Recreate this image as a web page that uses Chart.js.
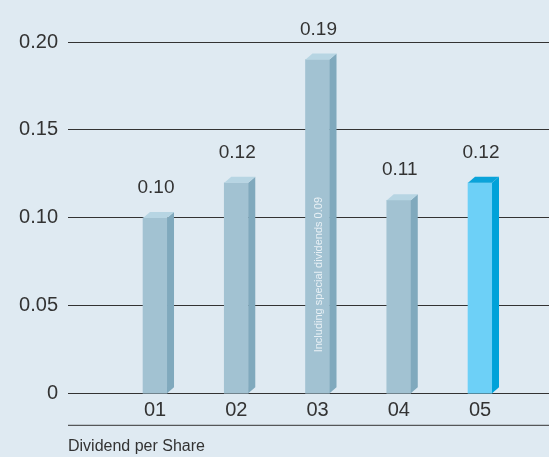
<!DOCTYPE html>
<html>
<head>
<meta charset="utf-8">
<script src="https://cdn.jsdelivr.net/npm/chart.js@4"></script>
<style>
    html, body { margin: 0; padding: 0; background: #dfeaf2; }
    #wrap { width: 549px; height: 457px; }
</style>
</head>
<body>
<div id="wrap"><canvas id="dividend-chart" width="549" height="457"></canvas></div>
<script>
const yearLabels = ['01', '02', '03', '04', '05'];
const dividends = [0.10, 0.12, 0.19, 0.11, 0.12];
const valueLabels = ['0.10', '0.12', '0.19', '0.11', '0.12'];
const barNotes = ['', '', 'Including special dividends 0.09', '', ''];
const yTicks = [0, 0.05, 0.10, 0.15, 0.20];
const yTickLabels = ['0', '0.05', '0.10', '0.15', '0.20'];

// front / side / top shades for each bar
const frontColors = ['#a2c2d2', '#a2c2d2', '#a2c2d2', '#a2c2d2', '#6dd0f7'];
const sideColors = ['#80a9bd', '#80a9bd', '#80a9bd', '#80a9bd', '#00a2d9'];
const topColors = ['#b7d5e3', '#b7d5e3', '#b7d5e3', '#b7d5e3', '#0aa3da'];

const FONT = "'Liberation Sans', Arial, sans-serif";
const TEXT = '#333333';

// extrude each bar into a box and write the labels
const boxPlugin = {
    id: 'box3d',
    afterDatasetsDraw(chart) {
        const ctx = chart.ctx;
        const meta = chart.getDatasetMeta(0);
        const dx = 7, dy = 6;
        meta.data.forEach((bar, i) => {
            const left = bar.x - bar.width / 2;
            const right = bar.x + bar.width / 2;
            const top = bar.y;
            const base = bar.base;

            ctx.save();
            ctx.fillStyle = sideColors[i];
            ctx.beginPath();
            ctx.moveTo(right, top);
            ctx.lineTo(right + dx, top - dy);
            ctx.lineTo(right + dx, base - dy);
            ctx.lineTo(right, base);
            ctx.closePath();
            ctx.fill();

            ctx.fillStyle = topColors[i];
            ctx.beginPath();
            ctx.moveTo(left, top);
            ctx.lineTo(left + dx, top - dy);
            ctx.lineTo(right + dx, top - dy);
            ctx.lineTo(right, top);
            ctx.closePath();
            ctx.fill();

            ctx.fillStyle = TEXT;
            ctx.font = '19px ' + FONT;
            ctx.textAlign = 'center';
            ctx.textBaseline = 'alphabetic';
            ctx.fillText(valueLabels[i], bar.x + 1, top - 25);

            if (barNotes[i]) {
                ctx.translate(bar.x + 4, base - 41);
                ctx.rotate(-Math.PI / 2);
                ctx.fillStyle = '#e8f0f5';
                ctx.font = '11px ' + FONT;
                ctx.textAlign = 'left';
                ctx.fillText(barNotes[i], 0, 0);
            }
            ctx.restore();
        });

        // rule between year labels and caption
        const xScale = chart.scales.x;
        const lineY = chart.chartArea.bottom + 31.5;
        ctx.save();
        ctx.strokeStyle = '#333333';
        ctx.lineWidth = 1;
        ctx.beginPath();
        ctx.moveTo(xScale.left, lineY);
        ctx.lineTo(xScale.right, lineY);
        ctx.stroke();
        ctx.restore();
    }
};

const ctx = document.getElementById('dividend-chart').getContext('2d');

new Chart(ctx, {
    type: 'bar',
    data: {
        datasets: [{
            data: dividends.map((v, i) => ({ x: i + 1, y: v })),
            backgroundColor: frontColors,
            borderWidth: 0,
            barThickness: 24
        }]
    },
    options: {
        responsive: false,
        animation: false,
        layout: { padding: { top: 42, left: 0, right: 0, bottom: 0 } },
        plugins: {
            legend: { display: false },
            tooltip: { enabled: false }
        },
        scales: {
            x: {
                type: 'linear',
                offset: false,
                min: -0.071,
                max: 5.849,
                grid: { display: false, drawTicks: false },
                border: { display: false },
                afterBuildTicks: scale => {
                    scale.ticks = yearLabels.map((_, i) => ({ value: i + 1 }));
                },
                ticks: {
                    autoSkip: false,
                    maxRotation: 0,
                    padding: 5,
                    color: TEXT,
                    font: { family: FONT, size: 20 },
                    callback: value => yearLabels[value - 1] || ''
                },
                title: {
                    display: true,
                    text: 'Dividend per Share',
                    align: 'start',
                    color: TEXT,
                    font: { family: FONT, size: 16 },
                    padding: { top: 9, bottom: 1 }
                }
            },
            y: {
                min: 0,
                max: 0.20,
                afterFit: scale => { scale.width = 68; },
                afterBuildTicks: scale => {
                    scale.ticks = yTicks.map(v => ({ value: v }));
                },
                grid: {
                    color: '#333333',
                    lineWidth: 1,
                    drawTicks: false
                },
                border: { display: false },
                ticks: {
                    padding: 10,
                    color: TEXT,
                    font: { family: FONT, size: 20 },
                    callback: (value, index) => yTickLabels[index]
                }
            }
        }
    },
    plugins: [boxPlugin]
});
</script>
</body>
</html>
